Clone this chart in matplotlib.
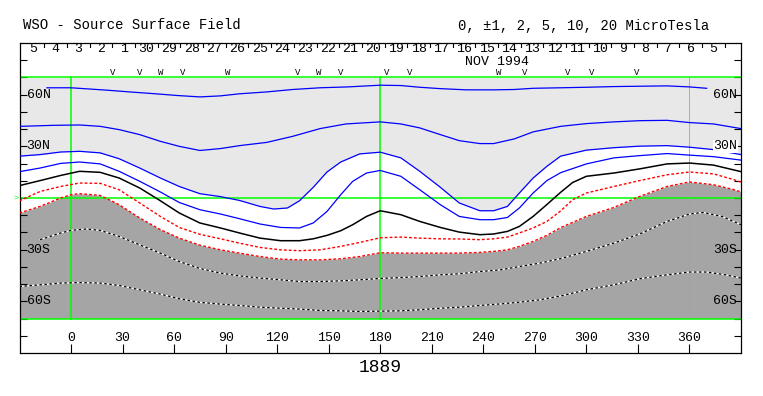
import numpy as np
import matplotlib.pyplot as plt

plt.rcParams['font.family'] = ['Liberation Mono', 'DejaVu Sans Mono']

# contour lines: longitude (deg) and latitude (deg)
lon_a = [-14, 0, 9, 21, 34, 48, 62, 75, 87, 98, 114, 129, 145, 161, 180, 192, 203, 215,
         230, 246, 258, 269, 285, 300, 316, 331, 347, 360, 370]
lat_a = [64.0, 64.0, 63.4, 62.6, 61.6, 60.6, 59.5, 58.7, 59.3, 60.5, 61.6, 63.0, 64.0, 64.5,
         65.5, 65.3, 64.3, 63.5, 62.8, 62.8, 63.0, 63.7, 64.0, 64.3, 64.7, 64.9, 65.1, 64.5, 63.7]

lon_b = [-30, -10, 5, 17, 28, 40, 52, 63, 75, 87, 98, 114, 129, 145, 160, 180, 192, 203, 215,
         226, 238, 246, 258, 269, 285, 300, 316, 331, 347, 360, 374, 390]
lat_b = [41.6, 42.2, 42.4, 41.6, 39.7, 36.8, 32.9, 30.0, 27.6, 28.7, 30.4, 32.3, 35.8, 40.3,
         43.0, 44.2, 43.0, 40.7, 36.8, 33.3, 31.6, 31.6, 34.3, 38.4, 41.6, 43.2, 44.2, 44.9,
         45.1, 43.8, 43.0, 40.3]

lon_c = [-30, -18, -6, 5, 17, 28, 40, 52, 63, 75, 87, 98, 110, 118, 126, 133, 141, 149, 157,
         168, 180, 192, 203, 215, 226, 238, 246, 254, 261, 269, 277, 285, 300, 316, 331, 347,
         360, 374, 390]
lat_c = [24.3, 25.2, 26.7, 27.1, 26.2, 22.8, 17.4, 11.6, 6.7, 2.5, 0.8, -1.4, -4.9, -6.4, -5.8,
         -1.6, 6.2, 15.1, 20.9, 25.6, 26.6, 23.3, 15.5, 6.2, -2.9, -7.4, -7.4, -4.9, 2.9, 11.6,
         18.4, 24.3, 27.8, 29.2, 30.1, 30.4, 29.5, 28.1, 25.2]

lon_d = [-30, -18, -6, 5, 17, 28, 40, 52, 63, 75, 87, 98, 110, 122, 133, 141, 149, 157, 164,
         172, 180, 192, 203, 215, 226, 238, 246, 254, 261, 269, 277, 285, 300, 316, 331, 347,
         360, 374, 390]
lat_d = [15.3, 17.4, 20.1, 20.9, 19.8, 15.5, 9.7, 3.5, -2.6, -6.8, -9.3, -12.0, -15.1, -17.1,
         -17.4, -14.5, -7.8, 1.9, 9.7, 14.5, 16.0, 12.6, 4.8, -3.9, -10.7, -12.6, -12.6, -11.3,
         -5.8, 2.9, 10.1, 14.7, 19.8, 23.3, 24.6, 25.8, 24.9, 24.0, 22.0]

lon_n = [-30, -18, -6, 5, 17, 28, 40, 52, 63, 75, 87, 98, 110, 122, 133, 141, 149, 157, 164,
         172, 180, 192, 203, 215, 226, 238, 246, 254, 261, 269, 277, 285, 292, 300, 316, 331,
         347, 360, 374, 390]
lat_n = [7.2, 10.1, 13.1, 15.5, 14.9, 11.6, 5.8, -1.6, -8.7, -14.5, -17.4, -20.3, -23.3, -24.8,
         -24.8, -23.7, -21.7, -19.0, -15.5, -10.7, -7.4, -9.7, -13.6, -17.1, -19.8, -21.3,
         -20.9, -19.4, -16.5, -10.7, -3.8, 3.3, 9.0, 12.6, 14.5, 16.9, 19.8, 20.3, 19.1, 15.3]

lon_r1 = [-30, -18, -6, 5, 17, 28, 40, 52, 63, 75, 87, 98, 110, 122, 133, 145, 157, 168, 180,
          192, 203, 215, 226, 238, 246, 254, 261, 269, 277, 285, 292, 300, 316, 331, 347, 360,
          374, 386, 390]
lat_r1 = [-1.6, 3.8, 6.7, 8.7, 8.5, 4.8, -2.9, -10.7, -17.1, -21.1, -23.7, -26.2, -28.7, -30.1,
          -30.6, -30.1, -28.1, -25.8, -23.1, -22.7, -23.3, -23.7, -23.8, -24.2, -23.7, -22.7,
          -20.3, -17.4, -13.6, -7.5, -1.0, 2.9, 6.7, 10.1, 13.5, 15.1, 14.0, 10.6, 9.2]

lon_r2 = [-30, -18, -6, 0, 5, 17, 28, 40, 52, 63, 75, 87, 98, 110, 122, 133, 145, 157, 168,
          180, 192, 203, 215, 226, 238, 246, 254, 261, 269, 277, 285, 300, 316, 331, 347, 360,
          374, 386, 390]
lat_r2 = [-8.7, -4.9, 0.0, 1.9, 2.5, 1.5, -3.9, -11.6, -18.4, -23.3, -27.4, -30.1, -32.0, -34.0,
          -35.5, -35.9, -35.9, -35.3, -34.0, -31.8, -32.0, -32.0, -32.0, -32.0, -31.6, -31.0,
          -30.1, -28.1, -25.2, -21.7, -17.2, -10.7, -5.5, 0.9, 6.7, 9.3, 7.7, 4.8, 3.5]

lon_e = [-18, -6, 0, 9, 17, 28, 40, 52, 63, 75, 87, 98, 110, 122, 133, 145, 157, 168, 180, 192,
         203, 215, 226, 238, 250, 261, 273, 285, 300, 316, 331, 347, 360, 368, 379, 390]
lat_e = [-24.2, -20.3, -18.8, -18.0, -18.8, -22.3, -27.2, -32.0, -36.9, -40.9, -43.6, -45.2,
         -46.5, -47.5, -48.5, -48.5, -48.1, -47.5, -46.7, -46.2, -45.6, -44.6, -44.0, -42.7,
         -41.7, -39.8, -37.8, -35.2, -31.0, -26.2, -20.9, -13.6, -9.3, -8.4, -10.7, -15.5]

lon_f = [-30, -18, -6, 5, 17, 28, 40, 52, 63, 75, 87, 98, 110, 122, 133, 145, 157, 168, 180,
         192, 203, 215, 226, 238, 250, 261, 273, 285, 300, 316, 331, 347, 360, 370, 381, 390]
lat_f = [-51.4, -50.4, -49.4, -49.1, -49.4, -50.8, -53.3, -55.8, -58.5, -60.6, -61.6, -62.4,
         -63.4, -64.0, -64.5, -65.3, -65.5, -65.9, -65.7, -65.5, -64.9, -64.0, -63.4, -62.4,
         -61.5, -60.5, -59.1, -56.9, -53.3, -50.4, -46.9, -44.6, -43.0, -43.0, -44.6, -46.5]

# top strip: dates (Dec 5 ... Nov 5) and V/W markers
day_labels = ['5', '4', '3', '2', '1', '30', '29', '28', '27', '26', '25', '24', '23', '22',
              '21', '20', '19', '18', '17', '16', '15', '14', '13', '12', '11', '10', '9',
              '8', '7', '6', '5']
mark_lon = [24, 40, 52, 65, 91, 132, 144, 157, 184, 197, 249, 264, 289, 303, 329]
mark_sym = ['V', 'V', 'W', 'V', 'W', 'V', 'W', 'V', 'V', 'V', 'W', 'V', 'V', 'V', 'V']

lon_ticks = list(range(0, 361, 30))
lat_labels = {60: '60N', 30: '30N', -30: '30S', -60: '60S'}

first_day = -15.5
day_len = 13.2

fig = plt.figure(figsize=(7.63, 3.96), dpi=100)
ax = fig.add_axes([20 / 763, 43 / 396, 721 / 763, 310 / 396])
ax.set_xlim(-29.7, 390)
ax.set_ylim(-90, 90)

# shading: positive region light, negative region dark
ax.fill_between(lon_c, lat_c, 70, color='#e8e8e8', lw=0, zorder=1)
ax.fill_between(lon_r2, -70, lat_r2, color='#a5a5a5', lw=0, zorder=1)

green = '#00ff00'
ax.axhline(70, color=green, lw=1.1, zorder=2)
ax.axhline(-70, color=green, lw=1.1, zorder=2)
ax.axhline(0, color=green, lw=1.1, zorder=2)
ax.plot([0, 0], [-70, 70], color=green, lw=1.1, zorder=2)
ax.plot([180, 180], [-70, 70], color=green, lw=1.1, zorder=2)
ax.plot([360, 360], [-70, 70], color='#66cc66', lw=0.6, zorder=2)
ax.text(-30.5, 0, '>', color=green, fontsize=6, ha='right', va='center', clip_on=False)

for lo, la in [(lon_a, lat_a), (lon_b, lat_b), (lon_c, lat_c), (lon_d, lat_d)]:
    ax.plot(lo, la, color='#0000ff', lw=0.9, zorder=3)
ax.plot(lon_n, lat_n, color='black', lw=1.1, zorder=3)
for lo, la in [(lon_r1, lat_r1), (lon_r2, lat_r2)]:
    ax.plot(lo, la, color='red', lw=1.0, ls=(0, (2, 1.5)), zorder=3)
for lo, la in [(lon_e, lat_e), (lon_f, lat_f)]:
    ax.plot(lo, la, color='white', lw=0.9, zorder=3)
    ax.plot(lo, la, color='black', lw=0.9, ls=(0, (2, 2)), zorder=3)

# axes ticks
ax.set_xticks(lon_ticks)
ax.set_xticklabels([])
ax.set_yticks(range(-80, 81, 10))
ax.set_yticklabels([])
ax.tick_params(axis='x', direction='in', length=6.5, width=0.8, top=False)
ax.tick_params(axis='y', direction='in', length=5, width=0.8, left=True, right=True)
for s in ax.spines.values():
    s.set_linewidth(0.9)

for t in lon_ticks:
    ax.text(t, -81.2, str(t), ha='center', va='center', fontsize=9.5)

for la, lab in lat_labels.items():
    ax.text(-25.8, la, lab, ha='left', va='center', fontsize=9.5, zorder=4)
    rlab = ax.text(387.8, la, lab, ha='right', va='center', fontsize=9.5, zorder=4)
    if lab == '30N':
        rlab.set_bbox(dict(facecolor='white', edgecolor='none', pad=0.5))

# day boundaries along the top edge
for k in range(len(day_labels)):
    x = first_day + day_len * k
    if x < 390:
        ax.plot([x, x], [87.6, 90], color='black', lw=0.8, zorder=4)
    ax.text(x - day_len / 2, 86.6, day_labels[k], ha='center', va='center', fontsize=9.5)

ax.text(248, 79.2, 'NOV 1994', ha='center', va='center', fontsize=9.5)
for lo, sym in zip(mark_lon, mark_sym):
    ax.text(lo, 72.8, sym, ha='center', va='center', fontsize=6.5)

fig.text(23 / 763, 1 - 25 / 396, 'WSO - Source Surface Field', ha='left', va='center',
         fontsize=10)
fig.text(584 / 763, 1 - 26 / 396, '0, \u00b11, 2, 5, 10, 20 MicroTesla', ha='center',
         va='center', fontsize=10)
fig.text(380 / 763, 1 - 367 / 396, '1889', ha='center', va='center', fontsize=13)

fig.savefig('out.png', dpi=100)
